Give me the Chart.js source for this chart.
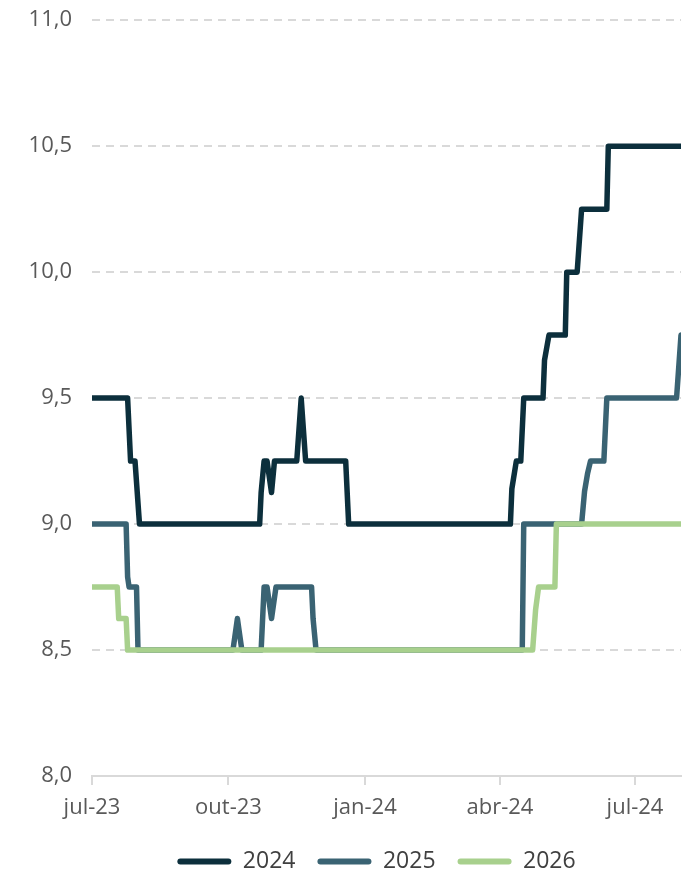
<!DOCTYPE html>
<html>
<head>
<meta charset="utf-8">
<script src="https://cdn.jsdelivr.net/npm/chart.js@4.4.1/dist/chart.umd.min.js"></script>
<style>
  html, body { margin: 0; padding: 0; background: #ffffff; overflow: hidden; }
  #wrap { width: 693px; height: 896px; margin-top: -13px; }
</style>
</head>
<body>
<div id="wrap"><canvas id="selicChart"></canvas></div>
<script>
// Eixo X: datas de referência e rótulos
const startDate = '2023-07-01';
const endDate = '2024-08-01';
const tickDates = ['2023-07-01', '2023-10-01', '2024-01-01', '2024-04-01', '2024-07-01'];
const tickLabels = ['jul-23', 'out-23', 'jan-24', 'abr-24', 'jul-24'];
const yTicks = [8.0, 8.5, 9.0, 9.5, 10.0, 10.5, 11.0];

// Expectativa para 2024
const dates2024 = ['2023-07-01', '2023-07-25', '2023-07-27', '2023-07-30', '2023-08-02',
    '2023-10-22', '2023-10-23', '2023-10-25', '2023-10-27', '2023-10-30', '2023-11-01',
    '2023-11-16', '2023-11-19', '2023-11-22', '2023-12-19', '2023-12-21',
    '2024-04-08', '2024-04-09', '2024-04-12', '2024-04-15', '2024-04-17',
    '2024-04-30', '2024-05-01', '2024-05-04', '2024-05-15', '2024-05-16',
    '2024-05-23', '2024-05-26', '2024-06-12', '2024-06-13', '2024-08-01'];
const values2024 = [9.5, 9.5, 9.25, 9.25, 9.0,
    9.0, 9.125, 9.25, 9.25, 9.125, 9.25,
    9.25, 9.5, 9.25, 9.25, 9.0,
    9.0, 9.14, 9.25, 9.25, 9.5,
    9.5, 9.65, 9.75, 9.75, 10.0,
    10.0, 10.25, 10.25, 10.5, 10.5];

// Expectativa para 2025
const dates2025 = ['2023-07-01', '2023-07-24', '2023-07-25', '2023-07-26', '2023-07-31', '2023-08-01',
    '2023-10-04', '2023-10-07', '2023-10-10', '2023-10-23', '2023-10-25', '2023-10-27',
    '2023-10-30', '2023-11-02', '2023-11-26', '2023-11-27', '2023-11-29',
    '2024-04-16', '2024-04-17', '2024-05-26', '2024-05-28', '2024-05-30', '2024-06-01',
    '2024-06-10', '2024-06-12', '2024-07-29', '2024-08-01'];
const values2025 = [9.0, 9.0, 8.79, 8.75, 8.75, 8.5,
    8.5, 8.625, 8.5, 8.5, 8.75, 8.75,
    8.625, 8.75, 8.75, 8.625, 8.5,
    8.5, 9.0, 9.0, 9.13, 9.2, 9.25,
    9.25, 9.5, 9.5, 9.75];

// Expectativa para 2026
const dates2026 = ['2023-07-01', '2023-07-18', '2023-07-19', '2023-07-24', '2023-07-25',
    '2024-04-23', '2024-04-25', '2024-04-27', '2024-05-08', '2024-05-09', '2024-08-01'];
const values2026 = [8.75, 8.75, 8.625, 8.625, 8.5,
    8.5, 8.66, 8.75, 8.75, 9.0, 9.0];

const DAY = 86400000;
const t0 = Date.parse(startDate);
const toDay = d => (Date.parse(d) - t0) / DAY;
const toPoints = (dates, values) => dates.map((d, i) => ({ x: toDay(d), y: values[i] }));

const tickDays = tickDates.map(toDay);
const fontFamily = "'Open Sans', 'Liberation Sans', sans-serif";

function serie(label, dates, values, color, order) {
    return {
        label: label,
        data: toPoints(dates, values),
        borderColor: color,
        backgroundColor: color,
        borderWidth: 5.5,
        borderCapStyle: 'round',
        borderJoinStyle: 'round',
        pointRadius: 0,
        tension: 0,
        order: order
    };
}

// legenda um pouco deslocada para a direita, como no original
const legendShift = {
    id: 'legendShift',
    afterLayout(chart) {
        chart.legend.left += 36;
        chart.legend.right += 36;
    }
};

new Chart(document.getElementById('selicChart'), {
    type: 'line',
    data: {
        datasets: [
            serie('2024', dates2024, values2024, '#0c2f3c', 3),
            serie('2025', dates2025, values2025, '#3a6373', 2),
            serie('2026', dates2026, values2026, '#a8d08d', 1)
        ]
    },
    plugins: [legendShift],
    options: {
        responsive: true,
        maintainAspectRatio: false,
        animation: false,
        layout: { padding: { top: 7, right: 12, left: 0, bottom: 0 } },
        scales: {
            x: {
                type: 'linear',
                min: toDay(startDate),
                max: toDay(endDate),
                afterBuildTicks: axis => { axis.ticks = tickDays.map(v => ({ value: v })); },
                afterFit: axis => { axis.height = 52; },
                ticks: {
                    autoSkip: false,
                    maxRotation: 0,
                    padding: 10,
                    color: '#595959',
                    font: { family: fontFamily, size: 22 },
                    callback: v => tickLabels[tickDays.indexOf(v)]
                },
                grid: { drawOnChartArea: false, drawTicks: true, tickLength: 9, color: '#d9d9d9', lineWidth: 2 },
                border: { display: true, color: '#d9d9d9', width: 2 }
            },
            y: {
                min: yTicks[0],
                max: yTicks[yTicks.length - 1],
                afterBuildTicks: axis => { axis.ticks = yTicks.map(v => ({ value: v })); },
                afterFit: axis => { axis.width = 92; },
                ticks: {
                    padding: 20,
                    color: '#595959',
                    font: { family: fontFamily, size: 22 },
                    callback: v => v.toFixed(1).replace('.', ',')
                },
                grid: { drawTicks: false, color: '#d9d9d9', lineWidth: 2 },
                border: { display: false, dash: [8, 6] }
            }
        },
        plugins: {
            tooltip: { enabled: false },
            legend: {
                position: 'bottom',
                labels: {
                    boxWidth: 54,
                    boxHeight: 6,
                    useBorderRadius: true,
                    borderRadius: 3,
                    padding: 22,
                    color: '#404040',
                    font: { family: fontFamily, size: 23 },
                    sort: (a, b) => a.datasetIndex - b.datasetIndex,
                    generateLabels: chart => Chart.defaults.plugins.legend.labels.generateLabels(chart)
                        .map(item => Object.assign(item, { lineWidth: 0 }))
                }
            }
        }
    }
});
</script>
</body>
</html>
